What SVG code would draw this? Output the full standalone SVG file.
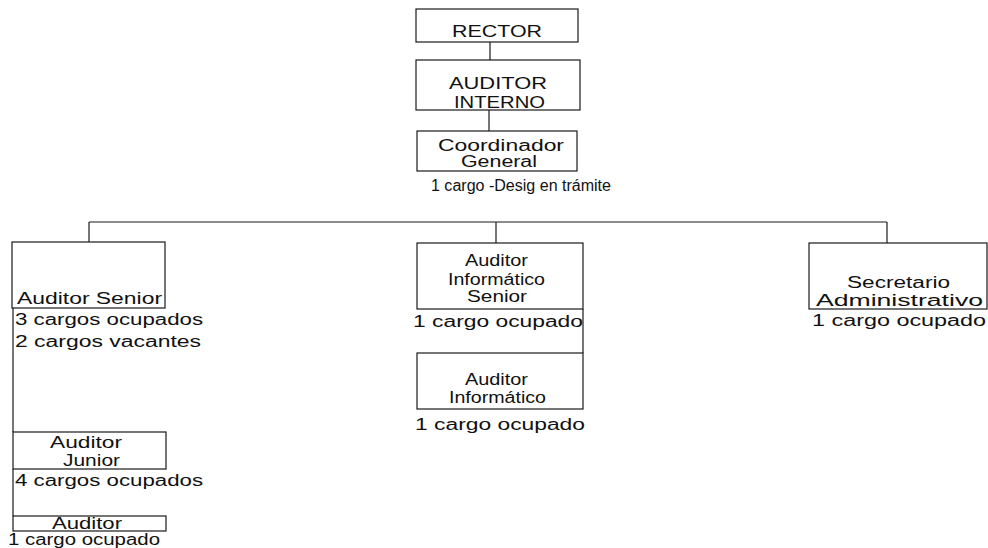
<svg xmlns="http://www.w3.org/2000/svg" width="988" height="548" viewBox="0 0 988 548">
<style>
.box{fill:#fff;stroke:#1a1a1a;stroke-width:1.2}
.ln{stroke:#1a1a1a;stroke-width:1.2;fill:none}
text{font-family:"Liberation Sans",Arial,sans-serif;font-size:16px;fill:#111}
</style>
<rect width="988" height="548" fill="#fff"/>
<g id="connectors">
<line class="ln" x1="490" y1="42" x2="490" y2="60"/>
<line class="ln" x1="489" y1="110" x2="489" y2="131"/>
<line class="ln" x1="89" y1="222" x2="887" y2="222"/>
<line class="ln" x1="89" y1="222" x2="89" y2="242"/>
<line class="ln" x1="496" y1="222" x2="496" y2="243"/>
<line class="ln" x1="887" y1="222" x2="887" y2="243"/>
<line class="ln" x1="583" y1="309" x2="583" y2="353"/>
<line class="ln" x1="13" y1="308" x2="13" y2="432"/>
<line class="ln" x1="13" y1="469" x2="13" y2="516"/>
</g>
<g id="rector">
<rect class="box" x="416" y="9" width="162" height="33"/>
<text x="452" y="37" textLength="90" lengthAdjust="spacingAndGlyphs">RECTOR</text>
</g>
<g id="auditor-interno">
<rect class="box" x="416" y="60" width="164" height="50"/>
<text x="449" y="89" textLength="98" lengthAdjust="spacingAndGlyphs">AUDITOR</text>
<text x="454" y="108" textLength="91" lengthAdjust="spacingAndGlyphs">INTERNO</text>
</g>
<g id="coordinador">
<rect class="box" x="417" y="131" width="160" height="40"/>
<text x="438" y="151" textLength="126" lengthAdjust="spacingAndGlyphs">Coordinador</text>
<text x="461" y="167" textLength="76" lengthAdjust="spacingAndGlyphs">General</text>
<text x="431" y="191" textLength="180" lengthAdjust="spacingAndGlyphs">1 cargo -Desig en trámite</text>
</g>
<g id="auditor-senior">
<rect class="box" x="12" y="242" width="153" height="66"/>
<text x="17" y="304" textLength="145" lengthAdjust="spacingAndGlyphs">Auditor Senior</text>
<text x="15" y="325" textLength="188" lengthAdjust="spacingAndGlyphs">3 cargos ocupados</text>
<text x="15" y="347" textLength="186" lengthAdjust="spacingAndGlyphs">2 cargos vacantes</text>
</g>
<g id="auditor-informatico-senior">
<rect class="box" x="417" y="243" width="166" height="66"/>
<text x="465" y="266" textLength="63" lengthAdjust="spacingAndGlyphs">Auditor</text>
<text x="448" y="285" textLength="97" lengthAdjust="spacingAndGlyphs">Informático</text>
<text x="467" y="302" textLength="60" lengthAdjust="spacingAndGlyphs">Senior</text>
<text x="413" y="327" textLength="170" lengthAdjust="spacingAndGlyphs">1 cargo ocupado</text>
</g>
<g id="auditor-informatico">
<rect class="box" x="417" y="353" width="166" height="56"/>
<text x="465" y="385" textLength="63" lengthAdjust="spacingAndGlyphs">Auditor</text>
<text x="449" y="403" textLength="97" lengthAdjust="spacingAndGlyphs">Informático</text>
<text x="415" y="430" textLength="170" lengthAdjust="spacingAndGlyphs">1 cargo ocupado</text>
</g>
<g id="secretario-administrativo">
<rect class="box" x="809" y="243" width="178" height="66"/>
<text x="847" y="288" textLength="103" lengthAdjust="spacingAndGlyphs">Secretario</text>
<text x="816" y="306" textLength="167" lengthAdjust="spacingAndGlyphs">Administrativo</text>
<text x="812" y="326" textLength="174" lengthAdjust="spacingAndGlyphs">1 cargo ocupado</text>
</g>
<g id="auditor-junior">
<rect class="box" x="13" y="432" width="153" height="37"/>
<text x="50" y="448" textLength="72" lengthAdjust="spacingAndGlyphs">Auditor</text>
<text x="63" y="466" textLength="57" lengthAdjust="spacingAndGlyphs">Junior</text>
<text x="15" y="486" textLength="188" lengthAdjust="spacingAndGlyphs">4 cargos ocupados</text>
</g>
<g id="auditor">
<rect class="box" x="13" y="516" width="153" height="15"/>
<text x="52" y="529" textLength="70" lengthAdjust="spacingAndGlyphs">Auditor</text>
<text x="8" y="545" textLength="152" lengthAdjust="spacingAndGlyphs">1 cargo ocupado</text>
</g>
</svg>
